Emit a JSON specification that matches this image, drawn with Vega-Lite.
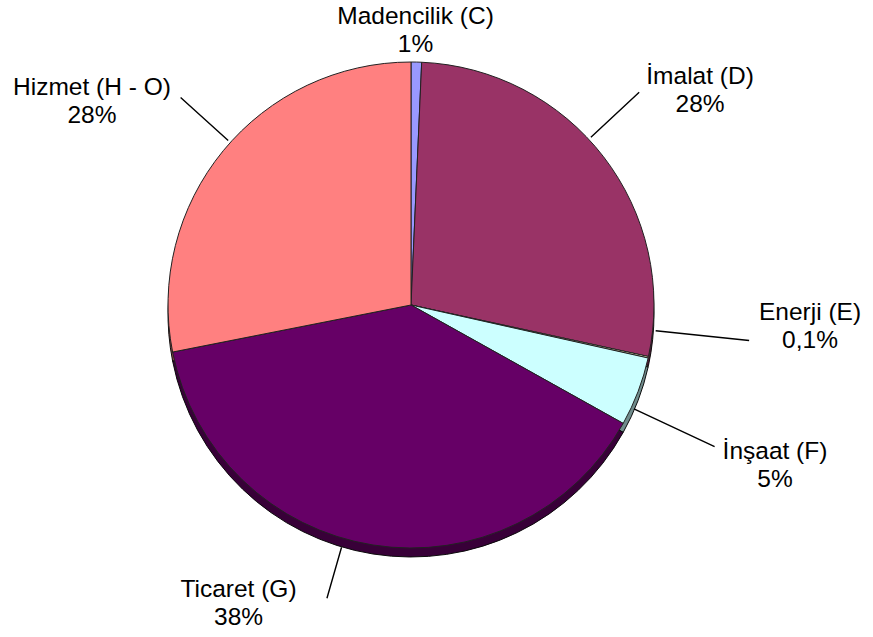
{
 "$schema": "https://vega.github.io/schema/vega-lite/v6.json",
 "width": 822, "height": 610,
 "autosize": {"type": "none"},
 "padding": {"left": 0, "top": 0, "right": 51, "bottom": 27},
 "background": "white",
 "config": {"view": {"stroke": null}},
 "data": {"values": [
  {"k": "Madencilik (C)", "v": 0.7, "o": 1, "label": "Madencilik (C)\n1%"},
  {"k": "İmalat (D)", "v": 27.7, "o": 2, "label": "İmalat (D)\n28%"},
  {"k": "Enerji (E)", "v": 0.1, "o": 3, "label": "Enerji (E)\n0,1%"},
  {"k": "İnşaat (F)", "v": 4.6, "o": 4, "label": "İnşaat (F)\n5%"},
  {"k": "Ticaret (G)", "v": 38.8, "o": 5, "label": "Ticaret (G)\n38%"},
  {"k": "Hizmet (H - O)", "v": 28.1, "o": 6, "label": "Hizmet (H - O)\n28%"}
 ]},
 "encoding": {
  "order": {"field": "o", "type": "quantitative"}
 },
 "layer": [
  {"mark": {"type": "arc", "radius": 243, "yOffset": 9, "stroke": "#111", "strokeWidth": 1},
   "encoding": {"theta": {"field": "v", "type": "quantitative", "stack": true},
     "color": {"field": "k", "type": "nominal", "legend": null,
     "scale": {"domain": ["Madencilik (C)", "İmalat (D)", "Enerji (E)", "İnşaat (F)", "Ticaret (G)", "Hizmet (H - O)"],
               "range": ["#9999FF", "#993366", "#FFFFCC", "#CCFFFF", "#660066", "#FF8080"]}}}},
  {"mark": {"type": "arc", "radius": 243, "yOffset": 9, "fill": "#000", "fillOpacity": 0.45},
   "encoding": {"theta": {"field": "v", "type": "quantitative", "stack": true}}},
  {"mark": {"type": "arc", "radius": 243, "stroke": "#222", "strokeWidth": 1},
   "encoding": {"theta": {"field": "v", "type": "quantitative", "stack": true},
     "color": {"field": "k", "type": "nominal", "legend": null}}},
  {"transform": [{"window": [{"op": "sum", "field": "v", "as": "cum"}], "sort": [{"field": "o"}], "frame": [null, 0]}],
   "mark": {"type": "arc", "radius": 312, "radius2": 246, "thetaOffset": -0.9641, "theta2Offset": -0.9641, "filled": false, "stroke": "#000", "strokeWidth": 1.4},
   "encoding": {"theta": {"field": "cum", "type": "quantitative", "stack": null}, "theta2": {"field": "cum"},
     "opacity": {"condition": {"test": "datum.k === 'İmalat (D)'", "value": 1}, "value": 0}}},
  {"transform": [{"window": [{"op": "sum", "field": "v", "as": "cum"}], "sort": [{"field": "o"}], "frame": [null, 0]}],
   "mark": {"type": "arc", "radius": 340, "radius2": 246, "thetaOffset": -0.1152, "theta2Offset": -0.1152, "filled": false, "stroke": "#000", "strokeWidth": 1.4},
   "encoding": {"theta": {"field": "cum", "type": "quantitative", "stack": null}, "theta2": {"field": "cum"},
     "opacity": {"condition": {"test": "datum.k === 'Enerji (E)'", "value": 1}, "value": 0}}},
  {"transform": [{"window": [{"op": "sum", "field": "v", "as": "cum"}], "sort": [{"field": "o"}], "frame": [null, 0]}],
   "mark": {"type": "arc", "radius": 335, "radius2": 246, "thetaOffset": -0.0726, "theta2Offset": -0.0726, "filled": false, "stroke": "#000", "strokeWidth": 1.4},
   "encoding": {"theta": {"field": "cum", "type": "quantitative", "stack": null}, "theta2": {"field": "cum"},
     "opacity": {"condition": {"test": "datum.k === 'İnşaat (F)'", "value": 1}, "value": 0}}},
  {"transform": [{"window": [{"op": "sum", "field": "v", "as": "cum"}], "sort": [{"field": "o"}], "frame": [null, 0]}],
   "mark": {"type": "arc", "radius": 305, "radius2": 252, "thetaOffset": -1.0968, "theta2Offset": -1.0968, "filled": false, "stroke": "#000", "strokeWidth": 1.4},
   "encoding": {"theta": {"field": "cum", "type": "quantitative", "stack": null}, "theta2": {"field": "cum"},
     "opacity": {"condition": {"test": "datum.k === 'Ticaret (G)'", "value": 1}, "value": 0}}},
  {"transform": [{"window": [{"op": "sum", "field": "v", "as": "cum"}], "sort": [{"field": "o"}], "frame": [null, 0]}],
   "mark": {"type": "arc", "radius": 310, "radius2": 246, "thetaOffset": -0.8378, "theta2Offset": -0.8378, "filled": false, "stroke": "#000", "strokeWidth": 1.4},
   "encoding": {"theta": {"field": "cum", "type": "quantitative", "stack": null}, "theta2": {"field": "cum"},
     "opacity": {"condition": {"test": "datum.k === 'Hizmet (H - O)'", "value": 1}, "value": 0}}},
  {"mark": {"type": "text", "radius": 274, "dx": -1.5, "dy": -14, "font": "Liberation Sans", "fontSize": 24.5, "lineBreak": "\n", "lineHeight": 28, "align": "center", "baseline": "middle", "color": "#000"},
   "encoding": {"theta": {"field": "v", "type": "quantitative", "stack": true},
     "text": {"condition": {"test": "datum.k === 'Madencilik (C)'", "field": "label"}, "value": ""}}},
  {"mark": {"type": "text", "radius": 358, "dx": 5.5, "dy": -9, "font": "Liberation Sans", "fontSize": 24.5, "lineBreak": "\n", "lineHeight": 28, "align": "center", "baseline": "middle", "color": "#000"},
   "encoding": {"theta": {"field": "v", "type": "quantitative", "stack": true},
     "text": {"condition": {"test": "datum.k === 'İmalat (D)'", "field": "label"}, "value": ""}}},
  {"mark": {"type": "text", "radius": 400, "dx": 8.4, "dy": -78, "font": "Liberation Sans", "fontSize": 24.5, "lineBreak": "\n", "lineHeight": 28, "align": "center", "baseline": "middle", "color": "#000"},
   "encoding": {"theta": {"field": "v", "type": "quantitative", "stack": true},
     "text": {"condition": {"test": "datum.k === 'Enerji (E)'", "field": "label"}, "value": ""}}},
  {"mark": {"type": "text", "radius": 399, "dx": -8.8, "dy": 4.8, "font": "Liberation Sans", "fontSize": 24.5, "lineBreak": "\n", "lineHeight": 28, "align": "center", "baseline": "middle", "color": "#000"},
   "encoding": {"theta": {"field": "v", "type": "quantitative", "stack": true},
     "text": {"condition": {"test": "datum.k === 'İnşaat (F)'", "field": "label"}, "value": ""}}},
  {"mark": {"type": "text", "radius": 347, "dx": -118.2, "dy": -57.7, "font": "Liberation Sans", "fontSize": 24.5, "lineBreak": "\n", "lineHeight": 28, "align": "center", "baseline": "middle", "color": "#000"},
   "encoding": {"theta": {"field": "v", "type": "quantitative", "stack": true},
     "text": {"condition": {"test": "datum.k === 'Ticaret (G)'", "field": "label"}, "value": ""}}},
  {"mark": {"type": "text", "radius": 377, "dx": -27.8, "dy": 22.4, "font": "Liberation Sans", "fontSize": 24.5, "lineBreak": "\n", "lineHeight": 28, "align": "center", "baseline": "middle", "color": "#000"},
   "encoding": {"theta": {"field": "v", "type": "quantitative", "stack": true},
     "text": {"condition": {"test": "datum.k === 'Hizmet (H - O)'", "field": "label"}, "value": ""}}}
 ]
}
